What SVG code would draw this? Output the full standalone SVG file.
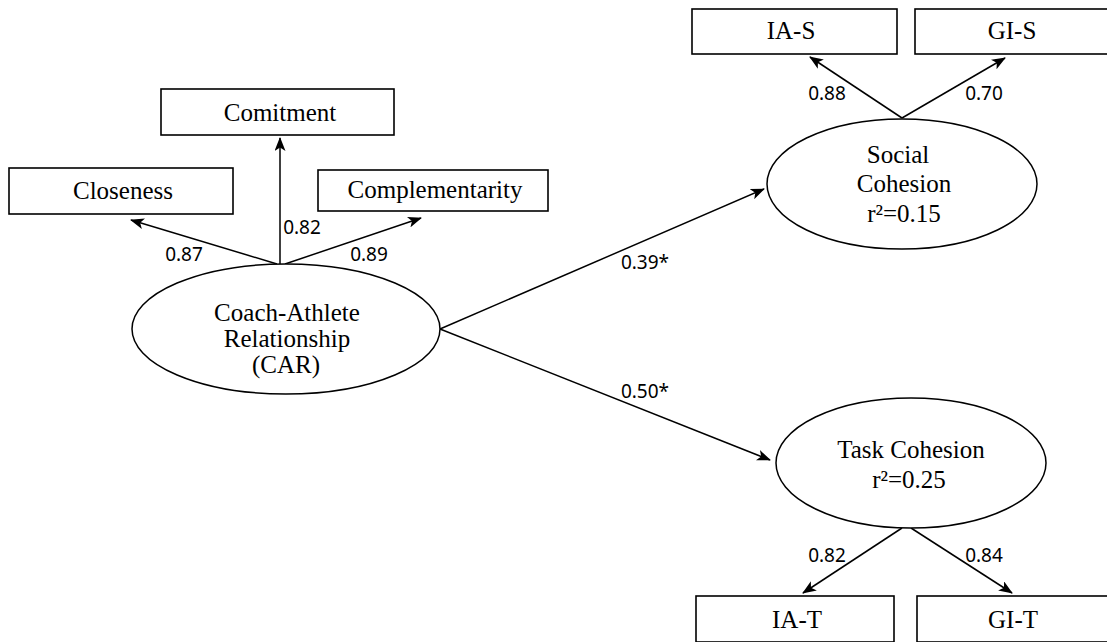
<svg xmlns="http://www.w3.org/2000/svg" width="1107" height="642" viewBox="0 0 1107 642">
<defs>
<marker id="ah" markerWidth="14" markerHeight="11" refX="13" refY="5.5" orient="auto" markerUnits="userSpaceOnUse">
<path d="M0,0 L14,5.5 L0,11 L3.5,5.5 Z" fill="#000"/>
</marker>
<style>
.box{fill:#fff;stroke:#000;stroke-width:1.6}
.ell{fill:#fff;stroke:#000;stroke-width:1.5}
.t{font-family:"Liberation Serif","Times New Roman",serif;font-size:25px;fill:#000;text-anchor:middle}
.n{font-family:"Noto Sans","DejaVu Sans",sans-serif;font-size:19px;fill:#000;text-anchor:middle}
.c{stroke:#000;stroke-width:1.5;fill:none;marker-end:url(#ah)}
</style>
</defs>
<rect width="1107" height="642" fill="#fff"/>
<g id="connectors">
<line class="c" x1="280" y1="264" x2="280" y2="138"/>
<line class="c" x1="277" y1="264" x2="131" y2="220"/>
<line class="c" x1="285" y1="264" x2="421" y2="218"/>
<line class="c" x1="440" y1="329" x2="764" y2="189"/>
<line class="c" x1="440" y1="329" x2="770" y2="460"/>
<line class="c" x1="902" y1="118" x2="810" y2="57"/>
<line class="c" x1="902" y1="118" x2="1005" y2="58"/>
<line class="c" x1="902" y1="528" x2="803" y2="593"/>
<line class="c" x1="911" y1="528" x2="1012" y2="593"/>
<text class="n" x="184" y="261">0.87</text>
<text class="n" x="302" y="234">0.82</text>
<text class="n" x="369" y="261">0.89</text>
<text class="n" x="645" y="269">0.39*</text>
<text class="n" x="645" y="398">0.50*</text>
<text class="n" x="827" y="100">0.88</text>
<text class="n" x="984" y="100">0.70</text>
<text class="n" x="827" y="562">0.82</text>
<text class="n" x="984" y="562">0.84</text>
</g>
<g id="closeness"><rect class="box" x="9" y="168" width="224" height="46"/><text class="t" x="123" y="199">Closeness</text></g>
<g id="comitment"><rect class="box" x="161" y="89" width="233" height="46"/><text class="t" x="280" y="121">Comitment</text></g>
<g id="complementarity"><rect class="box" x="318" y="170" width="230" height="41"/><text class="t" x="435" y="198">Complementarity</text></g>
<g id="car"><ellipse class="ell" cx="286" cy="329" rx="154" ry="65"/>
<text class="t" x="287" y="321">Coach-Athlete</text><text class="t" x="287" y="347">Relationship</text><text class="t" x="286" y="373">(CAR)</text></g>
<g id="ia-s"><rect class="box" x="692" y="9" width="205" height="45"/><text class="t" x="791" y="39">IA-S</text></g>
<g id="gi-s"><rect class="box" x="915" y="9" width="200" height="45"/><text class="t" x="1012" y="39">GI-S</text></g>
<g id="social"><ellipse class="ell" cx="902" cy="184" rx="135" ry="65"/>
<text class="t" x="898" y="163">Social</text><text class="t" x="904" y="192">Cohesion</text><text class="t" x="904" y="222">r²=0.15</text></g>
<g id="task"><ellipse class="ell" cx="911" cy="463" rx="135" ry="65"/>
<text class="t" x="911" y="458">Task Cohesion</text><text class="t" x="909" y="488">r²=0.25</text></g>
<g id="ia-t"><rect class="box" x="696" y="596" width="198" height="46"/><text class="t" x="797" y="628">IA-T</text></g>
<g id="gi-t"><rect class="box" x="917" y="596" width="200" height="46"/><text class="t" x="1013" y="628">GI-T</text></g>
</svg>
